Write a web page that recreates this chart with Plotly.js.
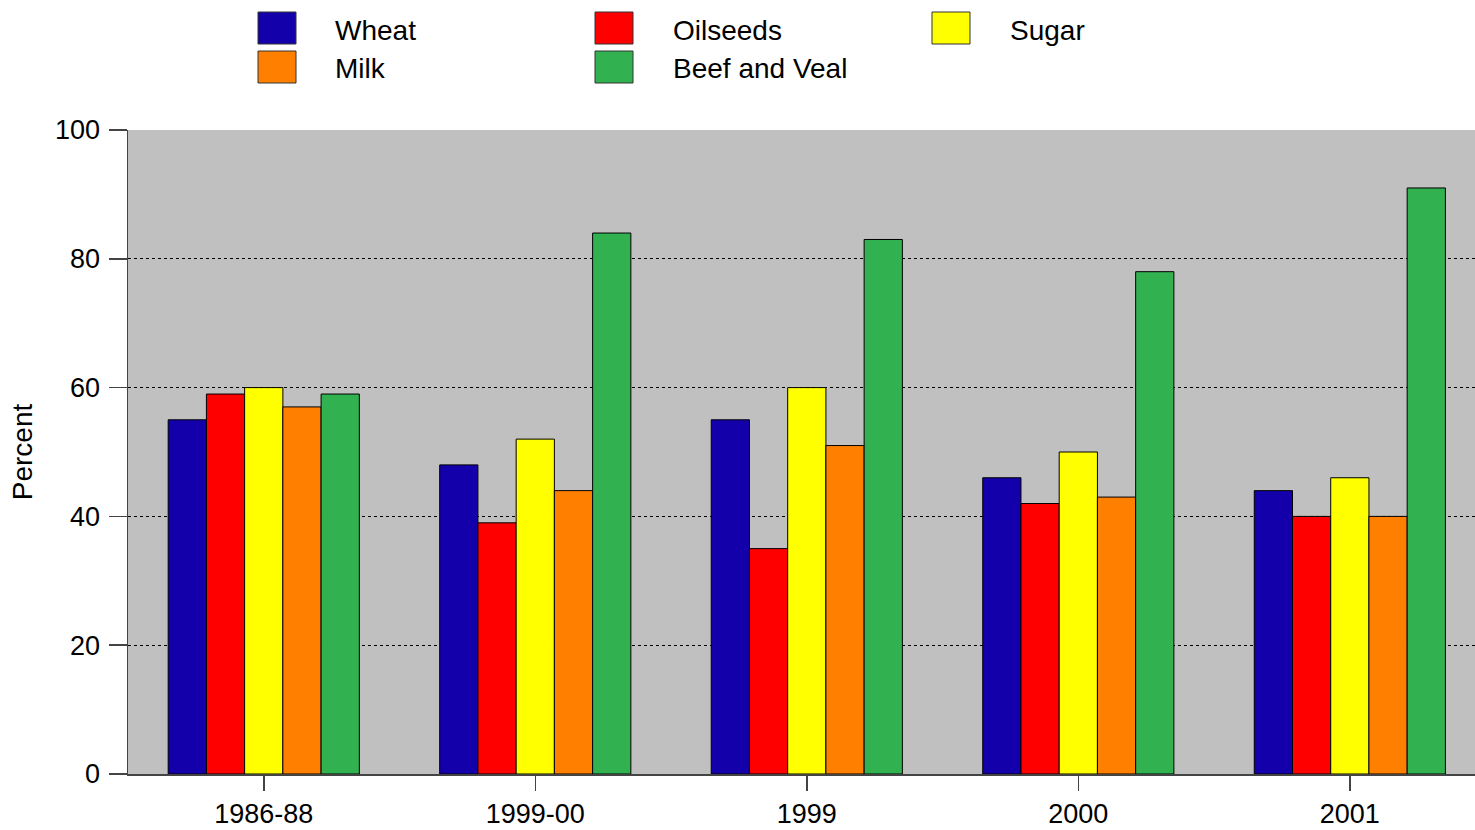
<!DOCTYPE html>
<html>
<head>
<meta charset="utf-8">
<script src="https://cdn.plot.ly/plotly-3.0.1.min.js"></script>
<style>html,body{margin:0;padding:0;background:#fff;}#chart{width:1475px;height:830px;}</style>
</head>
<body>
<div id="chart"></div>
<script>
const categories = ["1986-88", "1999-00", "1999", "2000", "2001"];
const seriesNames = ["Wheat", "Oilseeds", "Sugar", "Milk", "Beef and Veal"];
const wheat    = [55, 48, 55, 46, 44];
const oilseeds = [59, 39, 35, 42, 40];
const sugar    = [60, 52, 60, 50, 46];
const milk     = [57, 44, 51, 43, 40];
const beefVeal = [59, 84, 83, 78, 91];
const yTicks = [0, 20, 40, 60, 80, 100];

const values = [wheat, oilseeds, sugar, milk, beefVeal];
const colors = ["#1400aa", "#ff0000", "#ffff00", "#ff8000", "#32b150"];

const W = 1475, H = 830;
const L = 128, R = 0, T = 130, B = 56;
const pw = W - L - R, ph = H - T - B;
const px = x => (x - L) / pw;
const py = y => (H - B - y) / ph;
const FONT = "Liberation Sans, Arial, sans-serif";

const traces = seriesNames.map((n, i) => ({
  type: "bar", name: n, x: categories, y: values[i],
  marker: {color: colors[i], line: {color: "#000", width: 1}},
  showlegend: false, hoverinfo: "x+y+name"
}));

// custom legend (3 columns)
const legendPos = [
  {sx: 258, tx: 333, y: 28},
  {sx: 595, tx: 671, y: 28},
  {sx: 932, tx: 1008, y: 28},
  {sx: 258, tx: 333, y: 67},
  {sx: 595, tx: 671, y: 67}
];
const shapes = [];
const annotations = [];
legendPos.forEach((p, i) => {
  shapes.push({type: "rect", xref: "paper", yref: "paper",
    x0: px(p.sx), x1: px(p.sx + 38), y0: py(p.y - 16), y1: py(p.y + 16),
    fillcolor: colors[i], line: {color: "#333", width: 1}});
  annotations.push({xref: "paper", yref: "paper", x: px(p.tx), y: py(p.y + 2),
    xanchor: "left", yanchor: "middle", showarrow: false, text: seriesNames[i],
    font: {family: FONT, size: 28, color: "#000"}});
});
// x-axis line extension to the left
shapes.push({type: "line", xref: "paper", yref: "paper", x0: px(110), x1: 0, y0: 0, y1: 0,
  line: {color: "#444", width: 1.5}});

const layout = {
  width: W, height: H,
  margin: {l: L, r: R, t: T, b: B, pad: 0},
  paper_bgcolor: "#fff", plot_bgcolor: "#c0c0c0",
  barmode: "group", bargap: 0.296, bargroupgap: 0,
  font: {family: FONT, size: 27, color: "#000"},
  xaxis: {
    type: "category", range: [-0.5, 4.461],
    showline: true, linecolor: "#444", linewidth: 1.5,
    ticks: "outside", ticklen: 15, tickcolor: "#444", tickwidth: 1.5,
    showgrid: false, zeroline: false,
    tickfont: {family: FONT, size: 27},
    ticklabelstandoff: 0
  },
  yaxis: {
    range: [0, 100], tickvals: yTicks, ticktext: yTicks.map(String),
    showline: true, linecolor: "#444", linewidth: 1.5,
    ticks: "outside", ticklen: 18, tickcolor: "#444", tickwidth: 1.5,
    showgrid: true, gridcolor: "#000", gridwidth: 1, griddash: "dot",
    zeroline: false,
    tickfont: {family: FONT, size: 27},
    ticklabelstandoff: 3,
    title: {text: "Percent", standoff: 14,
      font: {family: "Liberation Sans Narrow, Arial Narrow, sans-serif", size: 28}}
  },
  shapes: shapes,
  annotations: annotations
};

Plotly.newPlot("chart", traces, layout, {displayModeBar: false, staticPlot: true});
</script>
</body>
</html>
